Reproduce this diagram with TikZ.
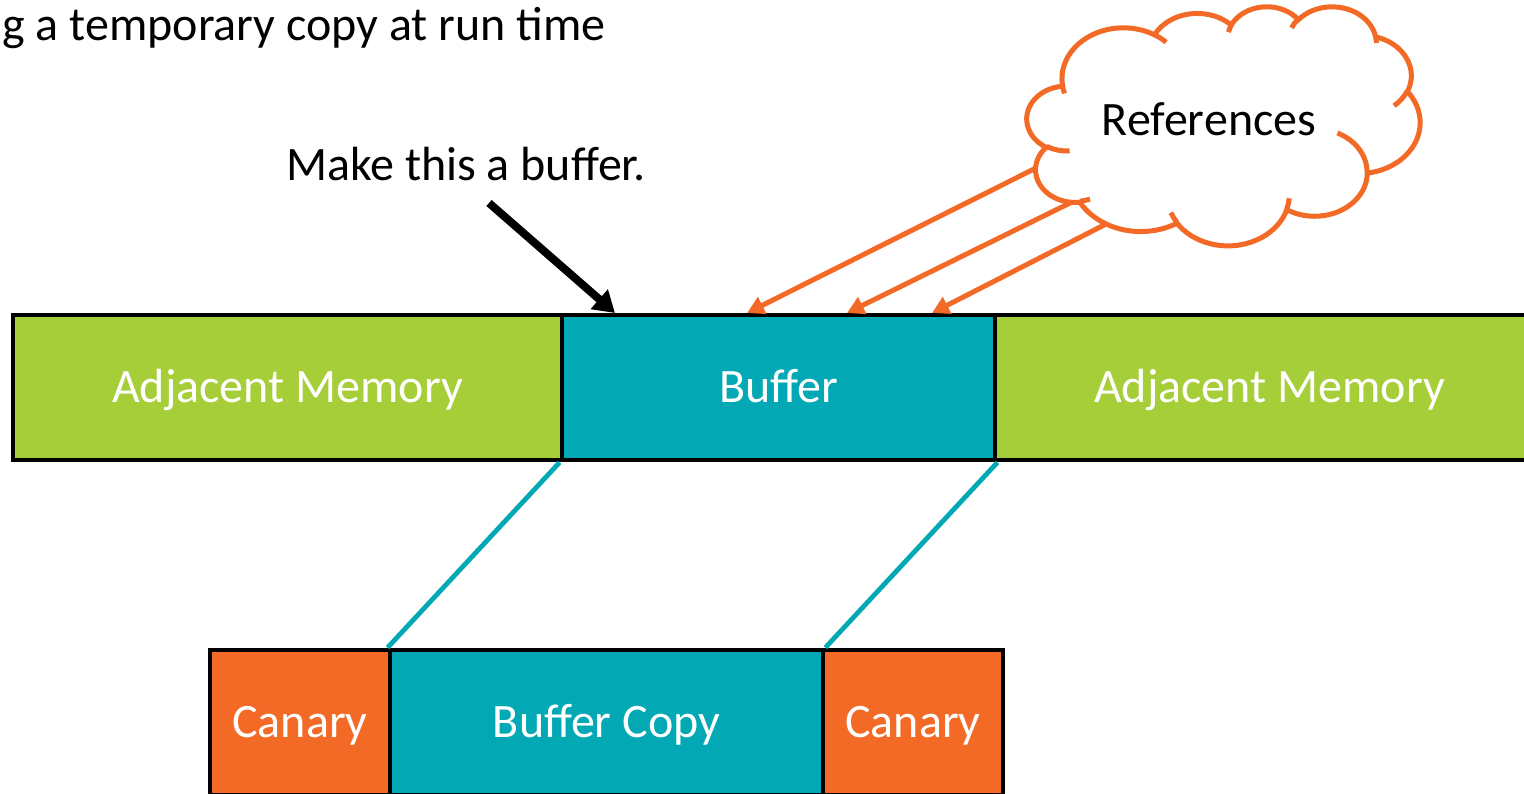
\documentclass[tikz,border=0pt]{standalone}
\usepackage{fontspec}
\setmainfont{Carlito}
\usetikzlibrary{arrows.meta}

\definecolor{memgreen}{HTML}{A6CE39}
\definecolor{bufteal}{HTML}{02A9B5}
\definecolor{canorange}{HTML}{F26A26}

% elliptical arc given by its radii, a start angle and a sweep, both measured
% as directions from the centre (not as ellipse parameters)
\newcommand\cloudarc[4]{arc[x radius=#1, y radius=#2,
  start angle={atan2((#1)*sin(#3),(#2)*cos(#3))},
  delta angle={mod(atan2((#1)*sin((#3)+(#4)),(#2)*cos((#3)+(#4)))-atan2((#1)*sin(#3),(#2)*cos(#3))+720,360)}]}

\tikzset{
  cell/.style={draw=black, line width=2.4pt, inner sep=0pt, text=white,
    font=\fontsize{24pt}{28pt}\selectfont, minimum height=72.5pt,
    text height=15.4pt, text depth=0pt},
  label/.style={inner sep=0pt, font=\fontsize{24pt}{28pt}\selectfont, anchor=base},
  link/.style={draw=bufteal, line width=2.4pt},
  pointer/.style={draw=black, line width=4pt, -{Triangle[length=10.5pt,width=12.5pt]}},
  refarrow/.style={draw=canorange, line width=2.5pt, -{Triangle[length=8.5pt,width=9pt]}},
  cloudline/.style={draw=canorange, line width=2.5pt},
}

\begin{document}
\begin{tikzpicture}[x=0.5pt, y=-0.5pt]
\useasboundingbox (0,0) rectangle (1524,793);
\clip (0,0) rectangle (1524,793);

% heading (runs off the left edge)
\node[label, anchor=base east] (heading) at (606,40) {g a temporary copy at run time};

% memory rows
\node[cell, fill=memgreen, minimum width=274.5pt] (adjL) at (287.5,387.5) {Adjacent Memory};
\node[cell, fill=bufteal, minimum width=216.5pt] (buf) at (778.5,387.5) {Buffer};
\node[cell, fill=memgreen, minimum width=274.5pt] (adjR) at (1269.5,387.5) {Adjacent Memory};

\node[cell, fill=canorange, minimum width=90pt] (canL) at (300,722.5) {Canary};
\node[cell, fill=bufteal, minimum width=216.5pt] (copy) at (606.5,722.5) {Buffer Copy};
\node[cell, fill=canorange, minimum width=90pt] (canR) at (913,722.5) {Canary};

% copy mapping
\draw[link] (buf.south west) -- (copy.north west);
\draw[link] (buf.south east) -- (copy.north east);

% callout
\node[label] (note) at (466,180) {Make this a buffer.};
\coordinate (noteTail) at (489,203);
\coordinate (noteTip) at (615,313);
\draw[pointer] (noteTail) -- (noteTip);

% references pointing into the buffer
\coordinate (r1) at (1036,168);
\coordinate (r2) at (1072,202);
\coordinate (r3) at (1108,223);
\coordinate (t1) at (747,313);
\coordinate (t2) at (847,313);
\coordinate (t3) at (932,313);
\draw[refarrow] (r1) -- (t1);
\draw[refarrow] (r2) -- (t2);
\draw[refarrow] (r3) -- (t3);

% cloud outline
\begin{scope}[xshift=513.5pt, yshift=-3pt, x=4.5486pt, y=-2.7662pt]
\draw[cloudline, fill=white] (3.900,14.370)
  \cloudarc{6.753}{9.190}{-190.4875}{123.7805}
  \cloudarc{5.333}{7.267}{-144.1024}{89.9452}
  \cloudarc{4.365}{5.945}{-145.8079}{99.7230}
  \cloudarc{4.857}{6.595}{-130.9861}{117.2417}
  \cloudarc{5.333}{7.273}{-78.7089}{109.0269}
  \cloudarc{6.775}{9.220}{-46.2673}{130.2690}
  \cloudarc{5.785}{7.867}{0.6250}{114.0333}
  \cloudarc{6.752}{9.215}{22.4516}{115.1726}
  \cloudarc{7.720}{10.543}{66.2426}{75.7110}
  \cloudarc{4.360}{5.918}{-274.9421}{146.7356}
  \cloudarc{4.345}{5.945}{-246.8285}{152.5189}
  -- cycle;
\draw[cloudline]
  (4.693,26.177) \cloudarc{4.345}{5.945}{86.7420}{26.4295}
  (6.928,34.899) \cloudarc{4.360}{5.918}{73.6105}{11.4475}
  (16.478,39.090) \cloudarc{6.752}{9.215}{137.6242}{14.0811}
  (28.827,34.751) \cloudarc{6.752}{9.215}{6.4533}{15.9984}
  (34.129,22.954) \cloudarc{5.785}{7.867}{-70.2924}{70.9174}
  (41.798,15.354) \cloudarc{5.333}{7.273}{30.3180}{27.7515}
  (38.324,5.426) \cloudarc{4.857}{6.595}{-13.7443}{14.8589}
  (29.078,3.952) \cloudarc{4.857}{6.595}{-149.1815}{18.1954}
  (22.141,4.720) \cloudarc{4.365}{5.945}{-163.4943}{17.6864}
  (14.000,5.192) \cloudarc{6.753}{9.190}{-66.7070}{12.3194}
  (4.127,15.789) \cloudarc{6.753}{9.190}{157.6544}{11.8582};
\end{scope}
\node[label] (refs) at (1209,135) {References};

\end{tikzpicture}
\end{document}
